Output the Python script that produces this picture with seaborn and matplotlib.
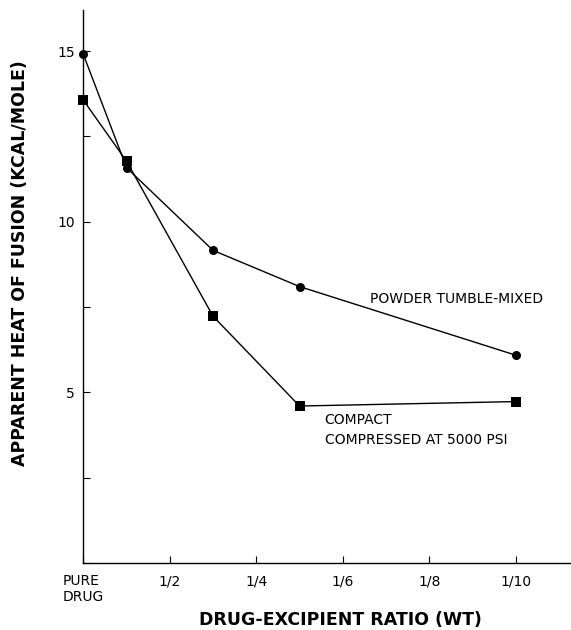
import numpy as np
import pandas as pd
import matplotlib
matplotlib.use('Agg')
import matplotlib.pyplot as plt
from matplotlib.ticker import MultipleLocator
import seaborn as sns

# x positions on the ratio axis (PURE DRUG = 0, one unit per tick)
ratio_pos = [0.0, 0.5, 1.5, 2.5, 5.0]
powder_heat = [14.9, 11.58, 9.16, 8.10, 6.09]
compact_heat = [13.56, 11.77, 7.23, 4.60, 4.73]

tick_pos = [0, 1, 2, 3, 4, 5]
tick_labels = ['PURE\nDRUG', '1/2', '1/4', '1/6', '1/8', '1/10']

sns.set_style('ticks')
plt.rcParams['font.family'] = ['DejaVu Sans']
plt.rcParams['text.color'] = 'black'
plt.rcParams['axes.labelcolor'] = 'black'

fig = plt.figure(figsize=(5.71, 6.3), dpi=100)
ax = fig.add_axes([0.146, 0.1063, 0.854, 0.8777])

df = pd.DataFrame({
    'ratio': ratio_pos * 2,
    'heat': powder_heat + compact_heat,
    'form': ['powder'] * 5 + ['compact'] * 5,
})

sns.lineplot(data=df, x='ratio', y='heat', hue='form', style='form',
             markers={'powder': 'o', 'compact': 's'}, dashes=False,
             palette={'powder': 'black', 'compact': 'black'},
             markersize=6.5, linewidth=1.0, markeredgewidth=0,
             legend=False, ax=ax, clip_on=False)

ax.set_xlim(0, 5.64)
ax.set_ylim(0, 16.2)
ax.set_xticks(tick_pos)
ax.set_xticklabels(tick_labels, multialignment='left', fontsize=10)
ax.yaxis.set_major_locator(MultipleLocator(5))
ax.yaxis.set_minor_locator(MultipleLocator(2.5))
ax.set_yticks([5, 10, 15])
ax.tick_params(axis='both', which='both', direction='in', length=5, width=0.8,
               colors='black', labelsize=10)
ax.tick_params(axis='x', pad=8)
ax.tick_params(axis='y', pad=6)

for s in ['top', 'right']:
    ax.spines[s].set_visible(False)
for s in ['left', 'bottom']:
    ax.spines[s].set_linewidth(1.0)
    ax.spines[s].set_color('black')

ax.set_xlabel('DRUG-EXCIPIENT RATIO (WT)', fontsize=12.5, fontweight='bold')
ax.set_ylabel('APPARENT HEAT OF FUSION (KCAL/MOLE)', fontsize=12.5, fontweight='bold')
ax.xaxis.set_label_coords(0.528, -0.103)
ax.xaxis.label.set_va('center')
ax.yaxis.set_label_coords(-0.13, 0.542)
ax.yaxis.label.set_va('center')

ax.text(3.31, 7.73, 'POWDER TUMBLE-MIXED', fontsize=10, va='center', ha='left')
ax.text(2.79, 4.18, 'COMPACT', fontsize=10, va='center', ha='left')
ax.text(2.79, 3.60, 'COMPRESSED AT 5000 PSI', fontsize=10, va='center', ha='left')

fig.savefig('out.png', dpi=100)
